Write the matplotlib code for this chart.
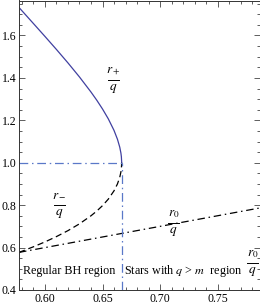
import matplotlib
matplotlib.use("Agg")
import matplotlib.pyplot as plt
from matplotlib.ticker import MultipleLocator, FixedLocator, FixedFormatter

plt.rcParams['font.family'] = ['Liberation Serif', 'DejaVu Serif']
plt.rcParams['mathtext.fontset'] = 'stix'

# data
x_h = [0.5774, 0.59, 0.60, 0.61, 0.62, 0.63, 0.64, 0.645, 0.65, 0.655, 0.66, 0.663, 0.665, 0.666, 0.6664, 0.6667]
r_plus = [1.7321, 1.6560, 1.5954, 1.5338, 1.4705, 1.4043, 1.3333, 1.2950, 1.2535, 1.2074, 1.1526, 1.1108, 1.0734, 1.0457, 1.0287, 1.0]
r_minus = [0.5773, 0.6039, 0.6268, 0.6520, 0.6800, 0.7121, 0.7500, 0.7722, 0.7977, 0.8282, 0.8676, 0.9002, 0.9316, 0.9563, 0.9721, 1.0]
x_0 = [0.5774, 0.7865]
r_zero = [0.5774, 0.7865]
x_crit = 0.6667
y_crit = 1.0
xticks = [0.60, 0.65, 0.70, 0.75]
xtick_labels = ["0.60", "0.65", "0.70", "0.75"]
yticks = [0.4, 0.6, 0.8, 1.0, 1.2, 1.4, 1.6]
ytick_labels = ["0.4", "0.6", "0.8", "1.0", "1.2", "1.4", "1.6"]

fig = plt.figure(figsize=(2.6, 3.07), dpi=100)
ax = fig.add_axes([19/260, 17/307, 240.5/260, 289.5/307])
ax.set_xlim(0.5774, 0.7865)
ax.set_ylim(0.4, 1.765)

ax.plot(x_h, r_plus, color='#4040a0', lw=0.9)
ax.plot(x_h, r_minus, color='black', lw=0.9, dashes=(5, 3))
ax.plot(x_0, r_zero, color='black', lw=0.9, dashes=(6, 3, 1.2, 3))
ax.plot([x_h[0], x_crit], [y_crit, y_crit], color='#5a78c8', lw=0.9, dashes=(7, 3, 1.2, 3))
ax.plot([x_crit, x_crit], [0.4, y_crit], color='#5a78c8', lw=0.9, dashes=(7, 3, 1.2, 3))

ax.xaxis.set_major_locator(FixedLocator(xticks))
ax.xaxis.set_major_formatter(FixedFormatter(xtick_labels))
ax.xaxis.set_minor_locator(MultipleLocator(0.01))
ax.yaxis.set_major_locator(FixedLocator(yticks))
ax.yaxis.set_major_formatter(FixedFormatter(ytick_labels))
ax.yaxis.set_minor_locator(MultipleLocator(0.05))
ax.tick_params(which='both', direction='in', top=True, right=True, labelsize=8.5,
               color='#444444', width=0.6, pad=2)
ax.tick_params(which='major', length=4)
ax.tick_params(which='minor', length=2)
for s in ax.spines.values():
    s.set_linewidth(0.7)
    s.set_color('#333333')


def frac(x, y, num, half=0.0048, fs=9.5):
    ax.plot([x - half, x + half], [y, y], color='black', lw=0.7, clip_on=False)
    ax.annotate(num, (x, y), xytext=(0, 5.2), textcoords='offset points',
                ha='center', va='baseline', fontsize=fs)
    ax.annotate(r'$q$', (x, y), xytext=(0, -7.0), textcoords='offset points',
                ha='center', va='baseline', fontsize=fs)


frac(0.6595, 1.388, r'$r_+$')
frac(0.6126, 0.800, r'$r_-$')
frac(0.7117, 0.715, r'$r_0$')
frac(0.7805, 0.527, r'$r_0$', half=0.0045)

ax.text(0.5810, 0.49, 'Regular BH region', fontsize=8.7, ha='left', va='center')
ax.text(0.6689, 0.49, r'Stars with $q$ > $m$  region', fontsize=8.7, ha='left', va='center')

fig.savefig('out.png', dpi=100)
